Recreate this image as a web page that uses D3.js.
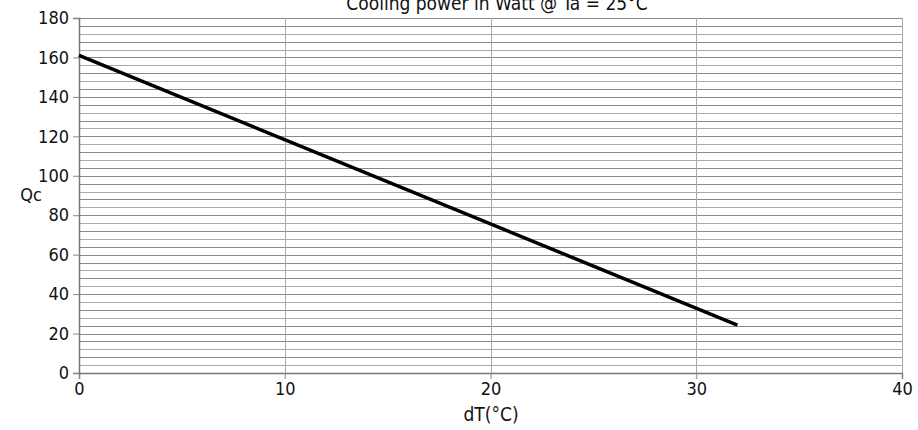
<!DOCTYPE html>
<html><head><meta charset="utf-8">
<script src="https://cdn.jsdelivr.net/npm/d3@7"></script>
<style>body{margin:0;background:#fff}text{font-family:"DejaVu Sans Condensed","DejaVu Sans",sans-serif;fill:#111}</style>
</head><body><svg id="c" width="918" height="430"></svg>
<script>
const dT = [0, 32];
const Qc = [161, 24.3];
const xTicks = [0, 10, 20, 30, 40];
const yTicks = [0, 20, 40, 60, 80, 100, 120, 140, 160, 180];
const title = "Cooling power in Watt @ Ta = 25°C";
const xLabel = "dT(°C)";
const yLabel = "Qc";

const svg = d3.select("#c");
const L = 79, R = 902, T = 18, B = 373;
const x = d3.scaleLinear().domain([0, 40]).range([L, R]);
const y = d3.scaleLinear().domain([0, 180]).range([B, T]);

const minor = d3.range(4, 180, 4);
svg.append("g").selectAll("line").data(minor).join("line")
  .attr("x1", L).attr("x2", R).attr("y1", d => Math.round(y(d)) + 0.5).attr("y2", d => Math.round(y(d)) + 0.5)
  .attr("stroke", (d, i) => i % 2 ? "#888" : "#aaa").attr("stroke-width", 1);
svg.append("g").selectAll("line").data(yTicks.filter(d => d > 0)).join("line")
  .attr("x1", L).attr("x2", R).attr("y1", d => Math.round(y(d)) + 0.5).attr("y2", d => Math.round(y(d)) + 0.5)
  .attr("stroke", "#888").attr("stroke-width", 1);
svg.append("g").selectAll("line").data(xTicks.filter(d => d > 0)).join("line")
  .attr("y1", T).attr("y2", B).attr("x1", d => Math.round(x(d)) + 0.5).attr("x2", d => Math.round(x(d)) + 0.5)
  .attr("stroke", "#aaa").attr("stroke-width", 1);

const fs = "18px";
const xa = svg.append("g").attr("transform", `translate(0,${B})`)
  .call(d3.axisBottom(x).tickValues(xTicks).tickSize(6).tickPadding(3));
const ya = svg.append("g").attr("transform", `translate(${L},0)`)
  .call(d3.axisLeft(y).tickValues(yTicks).tickSize(6).tickPadding(4));
[xa, ya].forEach(a => {
  a.select(".domain").attr("stroke", "#777").attr("stroke-width", 1.5);
  a.selectAll(".tick line").attr("stroke", "#888");
  a.selectAll("text").style("font-size", fs).attr("fill", "#111");
});

svg.append("path").datum(dT.map((d, i) => [d, Qc[i]]))
  .attr("d", d3.line().x(d => x(d[0])).y(d => y(d[1])))
  .attr("fill", "none").attr("stroke", "#000").attr("stroke-width", 3.5);

svg.append("text").attr("x", 497).attr("y", 10).attr("text-anchor", "middle").style("font-size", "19px").text(title);
svg.append("text").attr("x", 491).attr("y", 421).attr("text-anchor", "middle").style("font-size", "19px").text(xLabel);
svg.append("text").attr("x", 31).attr("y", 201).attr("text-anchor", "middle").style("font-size", fs).text(yLabel);
</script></body></html>
